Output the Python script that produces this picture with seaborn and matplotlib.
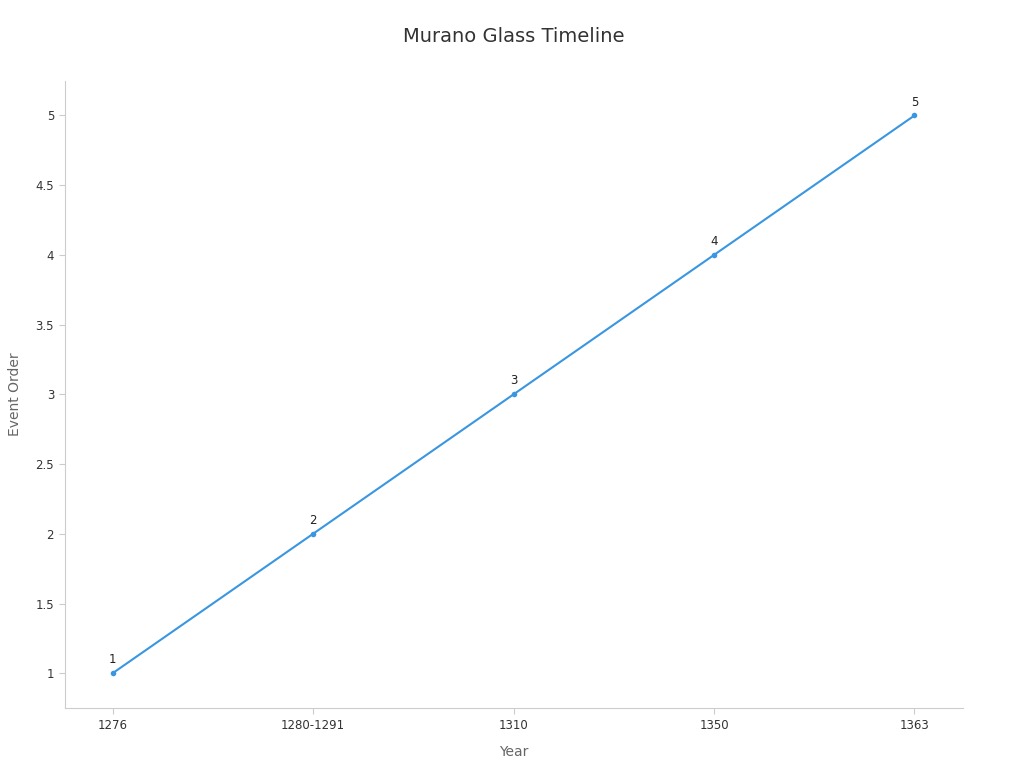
import matplotlib
matplotlib.use("Agg")
import matplotlib.pyplot as plt
import seaborn as sns
import pandas as pd

years = ["1276", "1280-1291", "1310", "1350", "1363"]
order = [1, 2, 3, 4, 5]

sns.set_style("white")
plt.rcParams['font.family'] = ['DejaVu Sans']
fig, ax = plt.subplots(figsize=(10.24, 7.68), dpi=100)
fig.subplots_adjust(left=0.063, right=0.94, top=0.895, bottom=0.078)
df = pd.DataFrame({"Year": years, "Order": order})
sns.lineplot(data=df, x="Year", y="Order", ax=ax, color="#3a96e0", marker="o",
             markersize=4, markeredgewidth=0, linewidth=1.5, sort=False)
for i, v in enumerate(order):
    ax.annotate(str(v), (i, v), xytext=(0, 5), textcoords="offset points",
                ha="center", va="bottom", fontsize=8.5, color="#222222")
ax.set_xlim(-0.24, 4.24)
ax.set_ylim(0.75, 5.25)
ax.set_yticks([1, 1.5, 2, 2.5, 3, 3.5, 4, 4.5, 5])
ax.set_yticklabels(["1", "1.5", "2", "2.5", "3", "3.5", "4", "4.5", "5"])
ax.tick_params(labelsize=8.5, colors="#333333", length=4, color="#cccccc")
ax.tick_params(axis="both", which="both", bottom=True, left=True)
ax.set_xlabel("Year", fontsize=10, color="#666666", labelpad=10)
ax.set_ylabel("Event Order", fontsize=10, color="#666666", labelpad=10)
ax.set_title("Murano Glass Timeline", fontsize=14, color="#333333", pad=28)
for s in ["top", "right"]:
    ax.spines[s].set_visible(False)
for s in ["left", "bottom"]:
    ax.spines[s].set_color("#cccccc")
fig.savefig("out.png", dpi=100)
